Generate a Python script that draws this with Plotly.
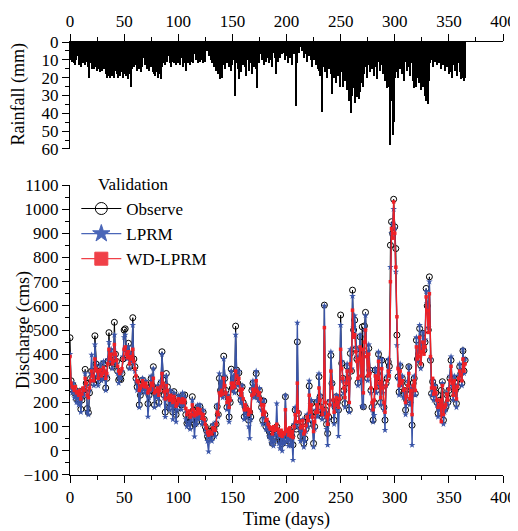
import plotly.graph_objects as go

# daily rainfall (mm), days 1..365
rainfall = [
    10, 11, 9, 12, 13, 10, 8, 13, 11, 14,
    9, 12, 6, 13, 10, 11, 14, 20, 12, 15,
    14, 15, 13, 14, 16, 15, 12, 17, 14, 16,
    15, 10, 18, 20, 19, 17, 20, 16, 19, 18,
    20, 16, 18, 20, 14, 19, 17, 15, 20, 18,
    16, 19, 17, 21, 18, 25, 15, 12, 14, 10,
    13, 16, 11, 15, 12, 17, 14, 9, 13, 5,
    15, 11, 16, 12, 14, 10, 17, 18, 19, 17,
    20, 16, 18, 21, 14, 12, 10, 13, 9, 11,
    8, 12, 14, 10, 11, 12, 9, 13, 10, 12,
    11, 13, 9, 14, 12, 10, 16, 8, 12, 11,
    13, 9, 11, 12, 7, 10, 9, 12, 8, 11,
    10, 9, 12, 8, 11, 2, 5, 8, 7, 10,
    12, 11, 14, 13, 16, 15, 18, 17, 21, 20,
    13, 10, 15, 9, 12, 8, 14, 11, 16, 13,
    10, 30, 12, 9, 15, 21, 11, 17, 8, 13,
    6, 14, 19, 10, 16, 12, 9, 18, 11, 14,
    8, 15, 26, 9, 12, 7, 10, 6, 13, 8,
    11, 5, 9, 12, 7, 10, 14, 6, 9, 18,
    8, 11, 5, 9, 4, 7, 3, 6, 10, 8,
    12, 5, 9, 4, 13, 3, 7, 4, 36, 12,
    2, 6, 3, 5, 2, 9, 4, 7, 11, 3,
    8, 6, 10, 14, 10, 9, 13, 12, 15, 16,
    19, 11, 39, 14, 10, 17, 20, 13, 15, 8,
    18, 29, 12, 20, 15, 23, 11, 19, 25, 17,
    14, 25, 19, 22, 15, 27, 24, 33, 28, 40,
    30, 26, 34, 27, 31, 24, 32, 28, 20, 23,
    25, 18, 14, 20, 11, 13, 17, 9, 15, 12,
    19, 10, 14, 21, 11, 16, 8, 13, 18, 15,
    22, 18, 26, 20, 25, 58, 33, 52, 45, 20,
    17, 12, 20, 10, 15, 8, 18, 13, 22, 11,
    16, 9, 14, 19, 12, 8, 22, 26, 24, 25,
    20, 23, 21, 27, 22, 25, 24, 30, 33, 29,
    35, 22, 12, 10, 14, 9, 11, 8, 13, 10,
    12, 9, 15, 11, 13, 16, 10, 14, 12, 18,
    17, 15, 20, 13, 11, 16, 14, 19, 12, 17,
    21, 14, 20, 22, 20,
]

# discharge (cms), days 0..365
observe = [
    468, 290, 255, 270, 240, 250, 215, 230, 210, 245,
    172, 210, 250, 230, 337, 280, 175, 158, 240, 300,
    330, 300, 280, 476, 360, 320, 290, 330, 350, 300,
    318, 360, 340, 260, 300, 370, 489, 380, 410, 348,
    360, 532, 400, 370, 330, 293, 300, 295, 320, 380,
    500, 505, 420, 390, 445, 348, 400, 380, 551, 380,
    348, 300, 265, 280, 190, 230, 260, 293, 270, 250,
    280, 260, 195, 230, 250, 300, 270, 348, 190, 240,
    230, 260, 200, 250, 280, 410, 293, 230, 160, 320,
    265, 200, 180, 240, 210, 160, 245, 200, 150, 175,
    220, 200, 210, 190, 230, 200, 231, 150, 114, 120,
    140, 100, 130, 224, 169, 110, 150, 120, 180, 140,
    183, 150, 120, 160, 130, 100, 86, 60, 50, 80,
    70, 55, 100, 90, 72, 110, 183, 150, 300, 250,
    280, 238, 392, 300, 250, 180, 220, 140, 200, 338,
    260, 300, 250, 516, 334, 280, 323, 240, 210, 265,
    200, 141, 180, 150, 160, 127, 160, 140, 250, 280,
    230, 260, 320, 240, 224, 250, 210, 180, 127, 206,
    150, 100, 114, 90, 80, 60, 70, 31, 90, 60,
    75, 100, 70, 50, 40, 72, 30, 60, 45, 224,
    50, 72, 40, 80, 31, 60, 25, 100, 169, 90,
    451, 155, 100, 60, 80, 120, 31, 50, 90, 140,
    110, 268, 150, 196, 130, 31, 100, 160, 200, 150,
    307, 224, 180, 141, 160, 603, 169, 110, 72, 140,
    200, 395, 279, 200, 127, 180, 224, 200, 169, 220,
    562, 362, 300, 250, 196, 280, 350, 300, 169, 403,
    330, 665, 500, 541, 420, 380, 282, 400, 472, 300,
    513, 182, 517, 573, 400, 300, 424, 334, 250, 180,
    127, 200, 334, 250, 320, 400, 280, 200, 375, 250,
    180, 127, 280, 300, 368, 350, 851, 948, 900, 1041,
    927, 837, 479, 306, 244, 350, 280, 300, 237, 250,
    169, 210, 280, 348, 200, 250, 106, 280, 300, 237,
    458, 380, 400, 506, 355, 430, 486, 417, 450, 672,
    600, 500, 720, 375, 237, 286, 220, 265, 240, 200,
    155, 180, 210, 250, 286, 127, 171, 180, 232, 200,
    250, 300, 375, 280, 220, 300, 250, 196, 265, 300,
    348, 320, 280, 414, 330, 375,
]

lprm = [
    400, 260, 240, 280, 220, 250, 200, 240, 190, 250,
    160, 220, 255, 230, 320, 270, 160, 150, 250, 320,
    397, 290, 270, 440, 350, 310, 270, 320, 360, 290,
    300, 370, 330, 250, 310, 380, 450, 370, 420, 340,
    370, 480, 390, 360, 320, 280, 310, 300, 330, 390,
    470, 480, 410, 380, 430, 340, 400, 370, 520, 360,
    330, 290, 250, 270, 180, 240, 250, 300, 260, 240,
    290, 250, 141, 220, 260, 310, 250, 340, 180, 230,
    220, 270, 190, 260, 290, 400, 270, 220, 140, 310,
    250, 180, 170, 250, 190, 130, 240, 190, 120, 170,
    230, 190, 220, 170, 240, 190, 225, 130, 100, 110,
    120, 90, 130, 210, 150, 59, 140, 110, 190, 130,
    190, 140, 110, 170, 120, 90, 70, 40, -3, 60,
    50, 40, 110, 80, 60, 120, 190, 140, 320, 240,
    290, 220, 380, 310, 240, 170, 230, 120, 210, 330,
    250, 310, 240, 480, 330, 270, 330, 220, 200, 270,
    190, 130, 190, 140, 150, 100, 52, 130, 260, 290,
    220, 270, 330, 230, 210, 260, 200, 170, 110, 210,
    140, 90, 120, 80, 60, 50, 31, 60, 20, 40,
    70, 196, 60, 30, 10, 70, 0, 50, 30, 230,
    40, 70, 20, 90, 20, 50, -38, 110, 180, 100,
    530, 160, 90, 40, 70, 130, 15, 40, 80, 150,
    100, 290, 140, 210, 120, 15, 90, 170, 210, 140,
    320, 230, 170, 130, 150, 600, 160, 90, 24, 130,
    210, 410, 280, 190, 110, 170, 230, 190, 61, 230,
    520, 370, 290, 240, 180, 290, 360, 290, 160, 420,
    340, 640, 510, 560, 430, 390, 270, 420, 480, 290,
    185, 180, 500, 560, 410, 290, 440, 330, 240, 170,
    120, 148, 340, 240, 330, 410, 270, 190, 380, 240,
    170, 86, 270, 310, 380, 330, 760, 900, 940, 1000,
    920, 741, 437, 300, 230, 360, 270, 310, 220, 240,
    150, 200, 290, 350, 190, 260, 24, 270, 310, 230,
    470, 370, 410, 520, 340, 440, 490, 420, 460, 660,
    610, 510, 700, 380, 230, 290, 210, 270, 230, 190,
    140, 170, 200, 150, 280, 110, 160, 170, 240, 190,
    260, 310, 390, 270, 210, 310, 240, 180, 270, 310,
    360, 330, 270, 420, 320, 380,
]

wd_lprm = [
    390, 280, 265, 260, 250, 265, 240, 245, 230, 250,
    215, 235, 260, 250, 300, 280, 230, 220, 260, 290,
    330, 310, 290, 380, 340, 330, 300, 330, 335, 310,
    320, 345, 330, 300, 320, 360, 420, 380, 400, 360,
    370, 440, 400, 375, 350, 330, 320, 330, 340, 380,
    420, 430, 400, 385, 410, 360, 390, 380, 420, 370,
    340, 310, 290, 285, 250, 260, 270, 290, 275, 265,
    280, 265, 240, 250, 255, 280, 270, 300, 240, 250,
    245, 260, 230, 250, 265, 320, 280, 245, 215, 270,
    250, 220, 210, 230, 215, 200, 225, 210, 185, 195,
    215, 205, 210, 200, 215, 200, 210, 175, 150, 160,
    165, 140, 150, 190, 170, 145, 160, 150, 175, 155,
    170, 155, 135, 150, 130, 110, 95, 75, 65, 80,
    75, 70, 95, 90, 85, 110, 160, 150, 240, 230,
    250, 235, 300, 270, 240, 200, 220, 180, 210, 280,
    260, 280, 265, 330, 310, 280, 300, 250, 230, 255,
    215, 170, 190, 170, 175, 150, 170, 160, 230, 255,
    235, 250, 290, 245, 230, 240, 215, 190, 150, 190,
    160, 125, 130, 110, 100, 90, 95, 70, 100, 85,
    90, 110, 90, 75, 65, 85, 60, 75, 70, 170,
    80, 90, 65, 95, 60, 80, 55, 100, 150, 120,
    280, 160, 120, 95, 100, 125, 70, 80, 105, 140,
    125, 230, 160, 190, 140, 80, 120, 160, 190, 160,
    260, 210, 180, 150, 170, 510, 200, 140, 110, 150,
    190, 330, 260, 210, 160, 190, 220, 200, 180, 215,
    420, 340, 300, 260, 220, 280, 330, 300, 200, 360,
    330, 582, 470, 480, 410, 370, 300, 380, 430, 310,
    420, 240, 450, 500, 390, 310, 400, 320, 260, 200,
    170, 210, 310, 260, 300, 370, 280, 220, 340, 260,
    200, 160, 270, 290, 330, 310, 700, 920, 880, 1030,
    900, 760, 555, 340, 270, 330, 280, 290, 250, 255,
    200, 225, 270, 320, 215, 250, 150, 270, 290, 250,
    430, 380, 390, 470, 360, 410, 450, 400, 430, 637,
    580, 490, 650, 390, 260, 300, 235, 260, 240, 210,
    180, 190, 210, 121, 270, 150, 180, 190, 235, 210,
    255, 290, 350, 280, 230, 290, 250, 215, 265, 300,
    330, 315, 290, 380, 330, 360,
]

assert len(rainfall) == 365
assert len(observe) == len(lprm) == len(wd_lprm) == 366

rain_days = list(range(1, 366))
days = list(range(0, 366))

serif = "Liberation Serif"
blue = '#3a55a8'
red = '#ee2026'

fig = go.Figure()

fig.add_trace(go.Bar(
    x=rain_days, y=rainfall, width=1,
    marker=dict(color='black', line=dict(width=0)),
    xaxis='x2', yaxis='y2', showlegend=False,
))

fig.add_trace(go.Scatter(
    x=days, y=observe, name='Observe', mode='lines+markers', showlegend=False,
    line=dict(color='black', width=1),
    marker=dict(symbol='circle-open', size=6, color='black', line=dict(width=1)),
))
fig.add_trace(go.Scatter(
    x=days, y=lprm, name='LPRM', mode='lines+markers', showlegend=False,
    line=dict(color=blue, width=1.4),
    marker=dict(symbol='star', size=5, color=blue),
))
fig.add_trace(go.Scatter(
    x=days, y=wd_lprm, name='WD-LPRM', mode='lines+markers', showlegend=False,
    line=dict(color=red, width=1.4),
    marker=dict(symbol='square', size=3.5, color=red),
))

# legend entries with bigger symbols, like the original
legend_style = [
    ('Observe', 'black', 'circle-open', 12),
    ('LPRM', '#4a66b8', 'star', 13),
    ('WD-LPRM', '#f04048', 'square', 13),
]
for name, color, symbol, size in legend_style:
    fig.add_trace(go.Scatter(
        x=[None], y=[None], name=name, mode='lines+markers',
        line=dict(color=color, width=1.2),
        marker=dict(symbol=symbol, size=size, color=color, line=dict(width=1, color=color)),
    ))

axis_common = dict(
    showline=True, linecolor='black', linewidth=1,
    ticks='outside', ticklen=7, tickwidth=1, tickcolor='black',
    showgrid=False, zeroline=False, automargin=False,
    tickfont=dict(family=serif, size=17, color='black'),
)

fig.update_layout(
    width=510, height=523,
    margin=dict(l=62, r=15, t=34, b=56),
    paper_bgcolor='white', plot_bgcolor='white',
    font=dict(family=serif, size=17, color='black'),
    bargap=0,
    xaxis=dict(
        domain=[0, 1], range=[0, 400], anchor='y', tick0=0, dtick=50,
        minor=dict(dtick=25, ticks='outside', ticklen=4, tickcolor='black'),
        title=dict(text='Time (days)', font=dict(family=serif, size=18), standoff=5),
        **axis_common,
    ),
    yaxis=dict(
        domain=[0, 0.6697], range=[-100, 1100], anchor='x', tick0=0, dtick=100,
        minor=dict(dtick=50, ticks='outside', ticklen=4, tickcolor='black'),
        **axis_common,
    ),
    xaxis2=dict(
        domain=[0, 1], range=[0, 400], anchor='y2', side='top', tick0=0, dtick=50,
        minor=dict(dtick=25, ticks='outside', ticklen=4, tickcolor='black'),
        **axis_common,
    ),
    yaxis2=dict(
        domain=[0.7529, 1], range=[60, 0], anchor='x2', tick0=0, dtick=10,
        minor=dict(dtick=5, ticks='outside', ticklen=4, tickcolor='black'),
        **axis_common,
    ),
    legend=dict(
        x=0.0146, y=0.656, xanchor='left', yanchor='top',
        bgcolor='rgba(0,0,0,0)', itemsizing='trace', itemwidth=40,
        font=dict(family=serif, size=17, color='black'),
        tracegroupgap=0,
    ),
    annotations=[
        dict(text='Validation', x=0.060, y=0.670, xref='paper', yref='paper',
             xanchor='left', yanchor='middle', showarrow=False,
             font=dict(family=serif, size=17, color='black')),
        dict(text='Rainfall (mm)', x=-0.119, y=0.880, xref='paper', yref='paper',
             xanchor='center', yanchor='middle',
             textangle=-90, showarrow=False,
             font=dict(family=serif, size=18, color='black')),
        dict(text='Discharge (cms)', x=-0.106, y=0.335, xref='paper', yref='paper',
             xanchor='center', yanchor='middle',
             textangle=-90, showarrow=False,
             font=dict(family=serif, size=18, color='black')),
    ],
)

fig.write_html("out.html")
